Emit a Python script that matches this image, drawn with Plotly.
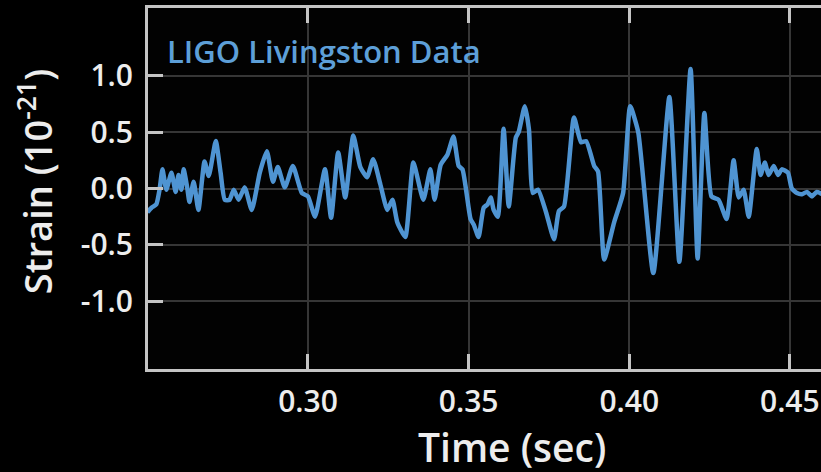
import plotly.graph_objects as go

# LIGO Livingston strain trace (time in s, strain in units of 1e-21)
time_s = [
    0.2500, 0.2513, 0.2528, 0.2538, 0.2547, 0.2559, 0.2575, 0.2588, 0.2597, 0.2606,
    0.2613, 0.2625, 0.2631, 0.2644, 0.2659, 0.2678, 0.2691, 0.2713, 0.2728, 0.2741,
    0.2756, 0.2769, 0.2784, 0.2803, 0.2825, 0.2850, 0.2872, 0.2891, 0.2906, 0.2928,
    0.2953, 0.2981, 0.3000, 0.3022, 0.3053, 0.3072, 0.3094, 0.3116, 0.3141, 0.3163,
    0.3184, 0.3203, 0.3225, 0.3247, 0.3263, 0.3278, 0.3303, 0.3328, 0.3359, 0.3381,
    0.3394, 0.3413, 0.3434, 0.3453, 0.3469, 0.3481, 0.3506, 0.3516, 0.3531, 0.3547,
    0.3559, 0.3569, 0.3578, 0.3591, 0.3609, 0.3625, 0.3647, 0.3656, 0.3675, 0.3688,
    0.3700, 0.3716, 0.3741, 0.3766, 0.3781, 0.3797, 0.3828, 0.3850, 0.3866, 0.3891,
    0.3903, 0.3922, 0.3953, 0.3981, 0.4003, 0.4028, 0.4075, 0.4125, 0.4156, 0.4191,
    0.4213, 0.4234, 0.4256, 0.4278, 0.4303, 0.4325, 0.4341, 0.4356, 0.4372, 0.4397,
    0.4409, 0.4422, 0.4434, 0.4450, 0.4463, 0.4475, 0.4494, 0.4506, 0.4522, 0.4538,
    0.4553, 0.4569, 0.4584, 0.4600,
]
strain = [
    -0.21, -0.17, -0.14, -0.01, 0.17, -0.01, 0.14, -0.03, 0.12, -0.01,
    0.17, -0.01, -0.12, 0.06, -0.19, 0.24, 0.11, 0.42, 0.14, -0.10,
    -0.10, -0.01, -0.10, 0.01, -0.19, 0.14, 0.33, 0.06, 0.19, 0.01,
    0.20, -0.04, -0.07, -0.25, 0.17, -0.26, 0.32, -0.08, 0.47, 0.19,
    0.10, 0.26, 0.04, -0.19, -0.10, -0.30, -0.43, 0.23, -0.10, 0.17,
    -0.10, 0.21, 0.30, 0.46, 0.20, 0.17, -0.27, -0.32, -0.43, -0.17,
    -0.14, -0.08, -0.19, -0.25, 0.53, -0.16, 0.45, 0.50, 0.73, 0.52,
    -0.04, -0.01, -0.21, -0.45, -0.20, -0.16, 0.63, 0.41, 0.42, 0.20,
    0.15, -0.63, -0.30, -0.04, 0.73, 0.50, -0.75, 0.81, -0.65, 1.06,
    -0.62, 0.67, -0.07, -0.10, -0.27, 0.25, -0.08, -0.01, -0.25, 0.35,
    0.12, 0.23, 0.12, 0.20, 0.12, 0.17, 0.14, 0.00, -0.04, -0.05,
    -0.03, -0.07, -0.03, -0.05,
]

x_ticks = [0.30, 0.35, 0.40, 0.45]
x_tick_labels = ["0.30", "0.35", "0.40", "0.45"]
y_ticks = [-1.0, -0.5, 0.0, 0.5, 1.0]
y_tick_labels = ["-1.0", "-0.5", "0.0", "0.5", "1.0"]

FRAME = "#c4c4c4"
GRID = "#363636"
TEXT = "#ededed"
TRACE = "#4f94d2"
FONT = "Open Sans"

fig = go.Figure()
fig.add_trace(go.Scatter(
    x=time_s, y=strain, mode="lines",
    line=dict(color=TRACE, width=4.5, shape="spline", smoothing=0.5),
    showlegend=False, hoverinfo="skip",
))

tick_font = dict(family=FONT, size=30, color=TEXT, weight=600)

fig.update_layout(
    width=821, height=472,
    margin=dict(l=148, r=0, t=8, b=103),
    paper_bgcolor="#000000", plot_bgcolor="#020202",
    xaxis=dict(
        range=[0.2502, 0.4597],
        tickvals=x_ticks, ticktext=x_tick_labels,
        ticks="inside", ticklen=15, tickwidth=3, tickcolor=FRAME,
        showline=True, linecolor=FRAME, linewidth=3, mirror="ticks",
        showgrid=True, gridcolor=GRID, gridwidth=2,
        zeroline=False, tickfont=tick_font, ticklabelstandoff=4,
    ),
    yaxis=dict(
        range=[-1.6, 1.6],
        tickvals=y_ticks, ticktext=y_tick_labels,
        ticks="inside", ticklen=15, tickwidth=3, tickcolor=FRAME,
        showline=True, linecolor=FRAME, linewidth=3, mirror=False,
        showgrid=True, gridcolor=GRID, gridwidth=2,
        zeroline=False, tickfont=tick_font, ticklabelstandoff=6,
    ),
    yaxis2=dict(
        range=[-1.6, 1.6], overlaying="y", side="right", anchor="x",
        tickvals=y_ticks, ticks="inside", ticklen=15, tickwidth=3,
        tickcolor=FRAME, showline=False, showgrid=False,
        zeroline=False, showticklabels=False,
    ),
)

fig.add_annotation(
    text="LIGO Livingston Data", xref="paper", yref="paper",
    x=0.026, y=0.881, xanchor="left", yanchor="middle", showarrow=False,
    font=dict(family=FONT, size=31, color="#5d9fd8", weight=600),
)
fig.add_annotation(
    text="Time (sec)", xref="paper", yref="paper",
    x=0.541, y=-0.215, xanchor="center", yanchor="middle", showarrow=False,
    font=dict(family=FONT, size=39, color=TEXT, weight=600),
)
fig.add_annotation(
    text="Strain (10<sup>-21</sup>)", xref="paper", yref="paper",
    x=-0.168, y=0.52, xanchor="center", yanchor="middle", showarrow=False,
    textangle=-90,
    font=dict(family=FONT, size=38, color=TEXT, weight=600),
)

fig.write_html("out.html")
